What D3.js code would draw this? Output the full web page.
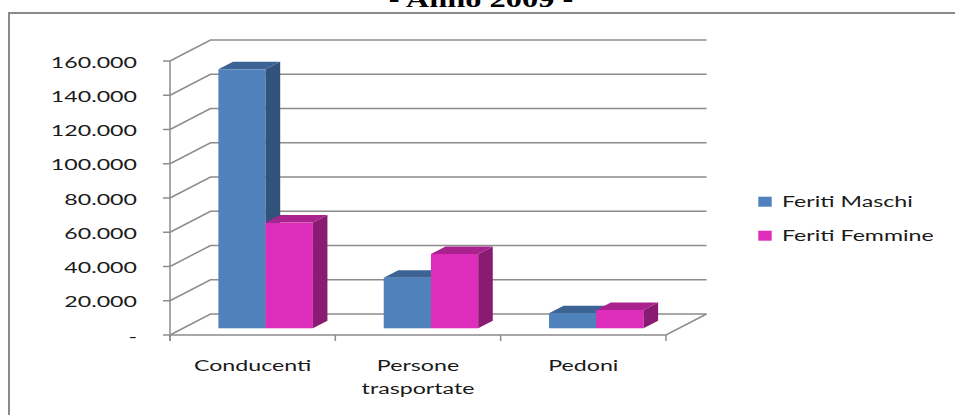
<!DOCTYPE html>
<html>
<head>
<meta charset="utf-8">
<script src="https://cdn.jsdelivr.net/npm/d3@7"></script>
<style>
  html, body { margin: 0; padding: 0; background: #fff; overflow: hidden; }
  svg { display: block; }
</style>
</head>
<body>
<svg id="chart" width="955" height="415"></svg>
<script>
// Feriti per categoria di utente e sesso - Anno 2009
const categories = ["Conducenti", "Persone trasportate", "Pedoni"];
const series = ["Feriti Maschi", "Feriti Femmine"];
const feritiMaschi = [151200, 29500, 8800];
const feritiFemmine = [61700, 43400, 10700];
const yTicks = [0, 20000, 40000, 60000, 80000, 100000, 120000, 140000, 160000];
const titleText = "- Anno 2009 -";

const values = { "Feriti Maschi": feritiMaschi, "Feriti Femmine": feritiFemmine };

const colors = {
  "Feriti Maschi":  { front: "#4f81bd", top: "#3b6394", side: "#31527a" },
  "Feriti Femmine": { front: "#dd2dba", top: "#a9228d", side: "#8a1b73" }
};

const svg = d3.select("#chart");
const SX = 1.45;                 // horizontal stretch applied to all text
const depth = { dx: 40.5, dy: 21 };  // floor depth offset of the 3D box
const barDepth = { f0: 0.32, f1: 0.68 }; // bars sit in the middle of the depth
const gridColor = "#8c8c8c";
const sansFont = "Lato, 'Open Sans', sans-serif";

const x = d3.scaleBand().domain(categories).range([170, 666]).paddingInner(0).paddingOuter(0);
const xs = d3.scaleBand().domain(series).range([0, x.bandwidth()]).paddingInner(0).paddingOuter(0.75);
const y = d3.scaleLinear().domain([0, 160000]).range([335, 61]);

const itLocale = d3.formatLocale({ decimal: ",", thousands: ".", grouping: [3], currency: ["€", ""] });
const fmt = v => v === 0 ? "-" : itLocale.format(",.0f")(v);

// stretched text helper
function stretchedText(g, tx, ty, str, opts) {
  return g.append("text")
    .attr("transform", `translate(${tx},${ty}) scale(${opts.sx || SX},1)`)
    .attr("text-anchor", opts.anchor || "start")
    .attr("font-family", opts.font || sansFont)
    .attr("font-size", opts.size || 16)
    .attr("font-weight", opts.weight || "normal")
    .attr("fill", opts.fill || "#1a1a1a")
    .text(str);
}

// frame around the chart area
svg.append("path")
  .attr("d", "M9,415 V13 H955")
  .attr("fill", "none")
  .attr("stroke", "#8a8a8a")
  .attr("stroke-width", 2);

// title (partly outside the top of the view)
stretchedText(svg, 481, 7, titleText, {
  anchor: "middle", font: "'Liberation Serif', 'Times New Roman', serif",
  size: 24, weight: "bold", fill: "#000", sx: 1.35
});

const [x0, x1] = x.range();
const grid = svg.append("g")
  .attr("fill", "none")
  .attr("stroke", gridColor)
  .attr("stroke-width", 1.5);

// side-wall and back-wall gridlines
yTicks.forEach(t => {
  const yf = y(t);
  grid.append("path")
    .attr("d", `M${x0},${yf} L${x0 + depth.dx},${yf - depth.dy} L${x1 + depth.dx},${yf - depth.dy}`);
});

// floor front and right edges
grid.append("path")
  .attr("d", `M${x0},${y(0)} L${x1},${y(0)} L${x1 + depth.dx},${y(0) - depth.dy}`);

// value axis line and ticks
grid.append("line")
  .attr("x1", x0).attr("x2", x0)
  .attr("y1", y(160000)).attr("y2", y(0) + 6);
yTicks.forEach(t => {
  grid.append("line")
    .attr("x1", x0 - 7).attr("x2", x0)
    .attr("y1", y(t)).attr("y2", y(t));
});

// category boundary ticks
const bounds = categories.map(c => x(c)).concat([x1]);
bounds.forEach(b => {
  grid.append("line")
    .attr("x1", b).attr("x2", b)
    .attr("y1", y(0)).attr("y2", y(0) + 6);
});

// value labels
const yLabels = svg.append("g");
yTicks.forEach(t => {
  stretchedText(yLabels, 137, y(t) + 6.5, fmt(t), { anchor: "end", size: 16 });
});

// category labels, one word per line
const xLabels = svg.append("g");
categories.forEach(c => {
  const cx = x(c) + x.bandwidth() / 2;
  c.split(" ").forEach((w, i) => {
    stretchedText(xLabels, cx, 371 + i * 23, w, { anchor: "middle", size: 16 });
  });
});

// 3D columns
const bars = svg.append("g");
const ox = depth.dx * barDepth.f0, oy = depth.dy * barDepth.f0;
const ddx = depth.dx * (barDepth.f1 - barDepth.f0), ddy = depth.dy * (barDepth.f1 - barDepth.f0);

categories.forEach((c, ci) => {
  series.forEach(s => {
    const v = values[s][ci];
    const bx0 = x(c) + xs(s) + ox;
    const bx1 = bx0 + xs.bandwidth();
    const yb = y(0) - oy;
    const yt = y(v) - oy;
    const col = colors[s];
    const g = bars.append("g");
    // front face
    g.append("rect")
      .attr("x", bx0).attr("y", yt)
      .attr("width", bx1 - bx0).attr("height", yb - yt)
      .attr("fill", col.front);
    // right side face
    g.append("path")
      .attr("d", `M${bx1},${yt} L${bx1 + ddx},${yt - ddy} L${bx1 + ddx},${yb - ddy} L${bx1},${yb} Z`)
      .attr("fill", col.side);
    // top face
    g.append("path")
      .attr("d", `M${bx0},${yt} L${bx0 + ddx},${yt - ddy} L${bx1 + ddx},${yt - ddy} L${bx1},${yt} Z`)
      .attr("fill", col.top);
  });
});

// legend
const legend = svg.append("g");
series.forEach((s, i) => {
  const ly = 206.7 + i * 34;
  legend.append("rect")
    .attr("x", 758.3).attr("y", ly - 10)
    .attr("width", 13.4).attr("height", 10)
    .attr("fill", colors[s].front);
  stretchedText(legend, 782, ly, s, { anchor: "start", size: 16 });
});
</script>
</body>
</html>
